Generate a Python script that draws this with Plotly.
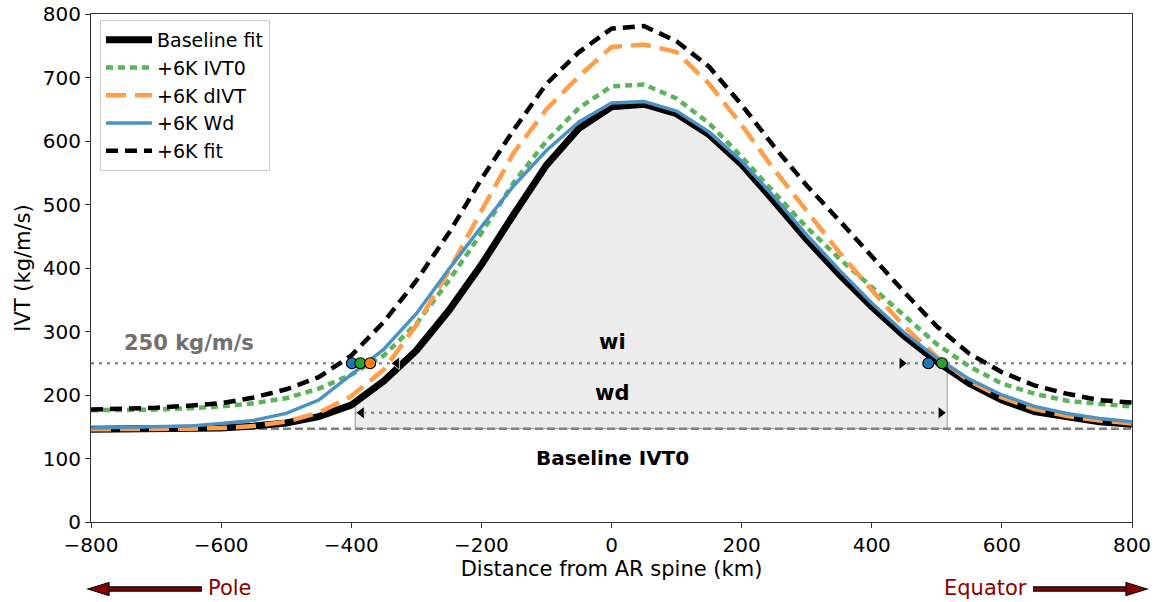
import numpy as np
import plotly.graph_objects as go

# ---------------- data ----------------
distance_km = [-800, -750, -700, -650, -600, -550, -500, -450, -400, -350, -300, -250, -200,
               -150, -100, -50, 0, 50, 100, 150, 200, 250, 300, 350, 400, 450, 500, 550,
               600, 650, 700, 750, 800]
baseline_fit = [146, 146, 146, 147, 148, 151, 156, 166, 184, 222, 270, 333, 405, 485, 562, 620,
                654, 658, 643, 610, 563, 505, 445, 390, 339, 293, 253, 218, 192, 174, 165, 158, 154]
ivt0_6k = [176, 176, 177, 179, 182, 187, 195, 210, 232, 262, 312, 380, 455, 535, 600, 652,
           686, 689, 667, 628, 575, 519, 464, 415, 370, 323, 280, 245, 218, 202, 191, 186, 182]
divt_6k = [146, 146, 147, 147, 148, 151, 158, 172, 198, 240, 310, 395, 490, 582, 650, 702,
           748, 752, 740, 690, 625, 555, 490, 425, 365, 308, 260, 222, 196, 178, 167, 160, 155]
wd_6k = [148, 149, 150, 151, 155, 160, 171, 192, 232, 272, 328, 398, 465, 530, 585, 630,
         660, 662, 647, 614, 568, 512, 452, 397, 345, 298, 258, 225, 200, 182, 171, 163, 158]
fit_6k = [177, 178, 180, 183, 187, 196, 209, 228, 262, 315, 380, 455, 540, 618, 690, 740,
          777, 781, 757, 717, 657, 591, 530, 475, 418, 362, 308, 265, 236, 215, 202, 192, 188]

baseline_ivt0 = 147
threshold_ivt = 250
wi_bounds = [-340, 456]
wd_bounds = [-394, 516]
wd_arrow_level = 172
dots_x = {"blue": [-399, 487], "green": [-386, 508], "orange": [-371]}

x_ticks = [-800, -600, -400, -200, 0, 200, 400, 600, 800]
y_ticks = [0, 100, 200, 300, 400, 500, 600, 700, 800]

# ---------------- layout geometry ----------------
W, H = 1159, 602
L, R, T, B = 91, 27, 14, 80
pw, ph = W - L - R, H - T - B
FONT = "DejaVu Sans"
xscale = pw / 1600.0  # px per km


def px2paper_x(px):
    return (px - L) / pw


def px2paper_y(py):
    return (H - B - py) / ph


fig = go.Figure()

# shaded region under baseline between wd bounds
xs = np.array(distance_km, dtype=float)
bs = np.array(baseline_fit, dtype=float)
inner = xs[(xs > wd_bounds[0]) & (xs < wd_bounds[1])]
poly_x = [wd_bounds[0]] + list(inner) + [wd_bounds[1]]
poly_y = list(np.interp(poly_x, xs, bs))
poly_x = poly_x + [wd_bounds[1], wd_bounds[0], wd_bounds[0]]
poly_y = poly_y + [baseline_ivt0, baseline_ivt0, poly_y[0]]
fig.add_trace(go.Scatter(x=poly_x, y=poly_y, mode="lines", fill="toself",
                         fillcolor="#ececec", line=dict(color="#9a9a9a", width=1),
                         showlegend=False, hoverinfo="skip"))

# reference lines
fig.add_trace(go.Scatter(x=[-800, 800], y=[baseline_ivt0] * 2, mode="lines",
                         line=dict(color="#808080", width=2.5, dash="8px,4px"),
                         showlegend=False, hoverinfo="skip"))
fig.add_trace(go.Scatter(x=[-800, 800], y=[threshold_ivt] * 2, mode="lines",
                         line=dict(color="#8a8a8a", width=2.5, dash="3px,5px"),
                         showlegend=False, hoverinfo="skip"))
fig.add_trace(go.Scatter(x=wd_bounds, y=[wd_arrow_level] * 2, mode="lines",
                         line=dict(color="#8a8a8a", width=2.5, dash="3px,5px"),
                         showlegend=False, hoverinfo="skip"))

# curves
fig.add_trace(go.Scatter(x=distance_km, y=baseline_fit, mode="lines", name="Baseline fit",
                         line=dict(color="black", width=7)))
fig.add_trace(go.Scatter(x=distance_km, y=ivt0_6k, mode="lines", name="+6K IVT0",
                         line=dict(color="#5ab55a", width=4.5, dash="7px,5px")))
fig.add_trace(go.Scatter(x=distance_km, y=divt_6k, mode="lines", name="+6K dIVT",
                         line=dict(color="#ff9d48", width=4.5, dash="20px,9px")))
fig.add_trace(go.Scatter(x=distance_km, y=wd_6k, mode="lines", name="+6K Wd",
                         line=dict(color="#4b92c4", width=3.5)))
fig.add_trace(go.Scatter(x=distance_km, y=fit_6k, mode="lines", name="+6K fit",
                         line=dict(color="black", width=4.5, dash="12px,7px")))

# arrowheads (tip offset by marker half-length)
msize = 11
off = (msize / 2) * 2 / np.sqrt(3) / xscale
fig.add_trace(go.Scatter(
    x=[wi_bounds[0] + off, wd_bounds[0] + off],
    y=[threshold_ivt, wd_arrow_level], mode="markers",
    marker=dict(symbol="triangle-left", size=msize, color="black",
                line=dict(color="white", width=0.8)),
    showlegend=False, hoverinfo="skip"))
fig.add_trace(go.Scatter(
    x=[wi_bounds[1] - off, wd_bounds[1] - off],
    y=[threshold_ivt, wd_arrow_level], mode="markers",
    marker=dict(symbol="triangle-right", size=msize, color="black",
                line=dict(color="white", width=0.8)),
    showlegend=False, hoverinfo="skip"))

# crossing dots
for key, col in [("blue", "#1f77b4"), ("green", "#2ca02c"), ("orange", "#ff7f0e")]:
    fig.add_trace(go.Scatter(x=dots_x[key], y=[threshold_ivt] * len(dots_x[key]),
                             mode="markers",
                             marker=dict(size=11, color=col, line=dict(color="black", width=1.2)),
                             showlegend=False, hoverinfo="skip"))

annotations = [
    dict(x=-752, y=282, text="<b>250 kg/m/s</b>", showarrow=False, xanchor="left",
         font=dict(family=FONT, size=21, color="#707070")),
    dict(x=2, y=283, text="<b>wi</b>", showarrow=False,
         font=dict(family=FONT, size=21, color="black")),
    dict(x=0, y=203, text="<b>wd</b>", showarrow=False,
         font=dict(family=FONT, size=21, color="black")),
    dict(x=2, y=101, text="<b>Baseline IVT0</b>", showarrow=False,
         font=dict(family=FONT, size=20, color="black")),
    dict(xref="paper", yref="paper", x=px2paper_x(206), y=px2paper_y(588), text="Pole",
         showarrow=False, xanchor="left", yanchor="middle",
         font=dict(family=FONT, size=21, color="#8b0000")),
    dict(xref="paper", yref="paper", x=px2paper_x(1029), y=px2paper_y(588), text="Equator",
         showarrow=False, xanchor="right", yanchor="middle",
         font=dict(family=FONT, size=21, color="#8b0000")),
]

shapes = []
yy = px2paper_y(589)
# Pole arrow
for col, wdt in [("black", 5.5), ("#8b0000", 3)]:
    shapes.append(dict(type="line", xref="paper", yref="paper",
                       x0=px2paper_x(202), x1=px2paper_x(106), y0=yy, y1=yy,
                       line=dict(color=col, width=wdt)))
shapes.append(dict(type="path", xref="paper", yref="paper",
                   path="M %f %f L %f %f L %f %f Z" % (
                       px2paper_x(88), yy, px2paper_x(109), px2paper_y(582.5),
                       px2paper_x(109), px2paper_y(595.5)),
                   fillcolor="#8b0000", line=dict(color="black", width=1.2)))
# Equator arrow
for col, wdt in [("black", 5.5), ("#8b0000", 3)]:
    shapes.append(dict(type="line", xref="paper", yref="paper",
                       x0=px2paper_x(1033), x1=px2paper_x(1129), y0=yy, y1=yy,
                       line=dict(color=col, width=wdt)))
shapes.append(dict(type="path", xref="paper", yref="paper",
                   path="M %f %f L %f %f L %f %f Z" % (
                       px2paper_x(1147), yy, px2paper_x(1126), px2paper_y(582.5),
                       px2paper_x(1126), px2paper_y(595.5)),
                   fillcolor="#8b0000", line=dict(color="black", width=1.2)))

axis_common = dict(showgrid=False, zeroline=False, showline=True, linecolor="#333333",
                   linewidth=1.2, mirror=True, ticks="outside", ticklen=5, tickwidth=1.2,
                   tickcolor="#333333", automargin=False,
                   tickfont=dict(family=FONT, size=20, color="black"))

fig.update_layout(
    width=W, height=H, autosize=False,
    margin=dict(l=L, r=R, t=T, b=B, pad=0),
    paper_bgcolor="white", plot_bgcolor="white",
    font=dict(family=FONT, size=20, color="black"),
    xaxis=dict(range=[-800, 800], tickvals=x_ticks,
               title=dict(text="Distance from AR spine (km)", standoff=2,
                          font=dict(family=FONT, size=21)),
               **axis_common),
    yaxis=dict(range=[0, 800], tickvals=y_ticks,
               title=dict(text="IVT (kg/m/s)", standoff=6, font=dict(family=FONT, size=21)),
               **axis_common),
    legend=dict(x=px2paper_x(100), y=px2paper_y(20), xanchor="left", yanchor="top",
                bgcolor="white", bordercolor="#cccccc", borderwidth=1, itemwidth=46,
                font=dict(family=FONT, size=19), tracegroupgap=0),
    annotations=annotations,
    shapes=shapes,
)

fig.write_html("out.html")
